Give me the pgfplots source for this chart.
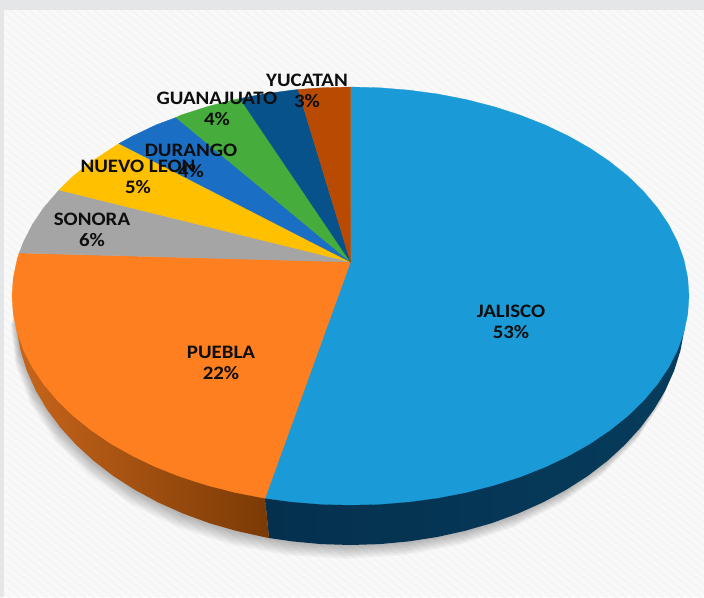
\documentclass[border=0pt]{standalone}
\usepackage{fontspec}
\setmainfont[FakeStretch=1.1]{Carlito}
\usepackage{pgfplots}
\pgfplotsset{compat=1.18}
\usepackage{pgfplotstable}
\usetikzlibrary{patterns.meta}

\definecolor{page}{HTML}{F9F9F9}
\definecolor{stripe}{HTML}{F5F5F5}
\definecolor{band}{HTML}{E4E6E8}
\definecolor{jalisco}{HTML}{1A9BD7}
\definecolor{puebla}{HTML}{FD7F20}
\definecolor{sonora}{HTML}{A5A5A5}
\definecolor{nuevoleon}{HTML}{FFC000}
\definecolor{durango}{HTML}{1A6FC4}
\definecolor{guanajuato}{HTML}{46AC3C}
\definecolor{otro}{HTML}{07528A}
\definecolor{yucatan}{HTML}{B84A02}
\definecolor{etiqueta}{HTML}{0E0E0E}
\definecolor{murojalA}{HTML}{04304E}
\definecolor{murojalB}{HTML}{073C5C}
\definecolor{muropueA}{HTML}{C8651C}
\definecolor{muropueB}{HTML}{7A3A05}

% Outer rim of the pie's base, used for the soft ground shadow
\pgfplotstableread{
x y
685.5 310
680.4 350.8
665.3 390.4
640.6 427.5
607.1 461.1
565.8 490
518 513.5
465.1 530.8
408.7 541.4
350.5 545
292.3 541.4
235.9 530.8
183 513.5
135.2 490
93.9 461.1
60.4 427.5
35.7 390.4
20.6 350.8
15.5 310
350.5 200
}\rim

\pgfplotsset{
  slice/.style={fill=#1,draw=#1,line width=0.3pt,forget plot},
  halo/.style={fill=black,fill opacity=.03,draw=none,forget plot},
}
\tikzset{
  etq/.style={align=center,text=etiqueta,inner sep=0pt,
    font=\fontsize{19}{21}\selectfont\bfseries},
}

\begin{document}
\begin{tikzpicture}
\begin{axis}[
  scale only axis,width=704pt,height=597pt,
  xmin=0,xmax=704,ymin=0,ymax=597,y dir=reverse,
  hide axis,clip=true,
]
% page, with its fine diagonal weave and the grey margins
\addplot[fill=page,draw=none,forget plot] coordinates {(0,0)(704,0)(704,597)(0,597)} -- cycle;
\addplot[pattern={Lines[angle=-40,distance=6pt,line width=2pt]},pattern color=stripe,draw=none,forget plot]
  coordinates {(0,0)(704,0)(704,597)(0,597)} -- cycle;
\addplot[fill=band,draw=none,forget plot] coordinates {(0,0)(704,0)(704,10)(0,10)} -- cycle;
\addplot[fill=band,draw=none,forget plot] coordinates {(0,0)(4,0)(4,597)(0,597)} -- cycle;

% ground shadow, built up from offset copies of the rim
\addplot[halo] table[x expr=\thisrow{x}-5,y expr=\thisrow{y}+14] {\rim} -- cycle;
\addplot[halo] table[x expr=\thisrow{x}-4.5,y expr=\thisrow{y}+12.5] {\rim} -- cycle;
\addplot[halo] table[x expr=\thisrow{x}-4,y expr=\thisrow{y}+11] {\rim} -- cycle;
\addplot[halo] table[x expr=\thisrow{x}-3.5,y expr=\thisrow{y}+9.5] {\rim} -- cycle;
\addplot[halo] table[x expr=\thisrow{x}-3,y expr=\thisrow{y}+8] {\rim} -- cycle;
\addplot[halo] table[x expr=\thisrow{x}-2.5,y expr=\thisrow{y}+6.5] {\rim} -- cycle;
\addplot[halo] table[x expr=\thisrow{x}-2,y expr=\thisrow{y}+5] {\rim} -- cycle;
\addplot[halo] table[x expr=\thisrow{x}-1.5,y expr=\thisrow{y}+3.5] {\rim} -- cycle;
\addplot[halo] table[x expr=\thisrow{x}-1,y expr=\thisrow{y}+2] {\rim} -- cycle;

% side wall under JALISCO
\addplot[left color=murojalA,right color=murojalB,draw=none,forget plot] coordinates {
(685.5,310)(684.2,330.5)(680.4,350.8)(674.1,370.8)(665.3,390.4)(654.1,409.3)(640.6,427.5)
(624.9,444.8)(607.1,461.1)(587.4,476.2)(565.8,490)(542.7,502.5)(518,513.5)(492.1,523)
(465.1,530.8)(437.2,537)(408.7,541.4)(379.7,544.1)(350.5,545)(321.3,544.1)(292.3,541.4)
(269,538)(265,498.2)} -- cycle;

% side wall under PUEBLA
\addplot[left color=muropueA,right color=muropueB,draw=none,forget plot] coordinates {
(269,538)(263.8,537)(235.9,530.8)(208.9,523)(183,513.5)(158.3,502.5)(135.2,490)(113.6,476.2)
(93.9,461.1)(76.1,444.8)(60.4,427.5)(46.9,409.3)(35.7,390.4)(26.9,370.8)(20.6,350.8)
(16.8,330.5)(15.5,310)(265,498.2)} -- cycle;

% top face, slice by slice, clockwise from the top of the rim
% JALISCO 53%
\addplot[slice=jalisco] coordinates {
(350.5,262)(350.5,87)(380,87.8)(409.3,90.2)(438.1,94.1)(466.3,99.6)(493.6,106.6)(519.8,115)
(544.7,124.8)(568.1,135.9)(589.9,148.2)(609.8,161.7)(627.8,176.1)(643.6,191.5)(657.3,207.7)
(668.6,224.5)(677.5,241.9)(683.9,259.7)(687.7,277.8)(689,296)(687.7,314.2)(683.9,332.3)
(677.5,350.1)(668.6,367.5)(657.3,384.3)(643.6,400.5)(627.8,415.9)(609.8,430.3)(589.9,443.8)
(568.1,456.1)(544.7,467.2)(519.8,477)(493.6,485.4)(466.3,492.4)(438.1,497.9)(409.3,501.8)
(380,504.2)(350.5,505)(321,504.2)(291.7,501.8)(265,498.2)} -- cycle;
% PUEBLA 22%
\addplot[slice=puebla] coordinates {
(350.5,262)(265,498.2)(262.9,497.9)(234.7,492.4)(207.4,485.4)(181.2,477)(156.3,467.2)
(132.9,456.1)(111.1,443.8)(91.2,430.3)(73.2,415.9)(57.4,400.5)(43.7,384.3)(32.4,367.5)
(23.5,350.1)(17.1,332.3)(13.3,314.2)(12,296)(13.3,277.8)(17.1,259.7)(19.2,253)} -- cycle;
% SONORA 6%
\addplot[slice=sonora] coordinates {
(350.5,262)(19.2,253)(23.5,241.9)(32.4,224.5)(43.7,207.7)(59,190)} -- cycle;
% NUEVO LEON 5%
\addplot[slice=nuevoleon] coordinates {
(350.5,262)(59,190)(73.2,176.1)(91.2,161.7)(119,143.5)} -- cycle;
% DURANGO 4%
\addplot[slice=durango] coordinates {
(350.5,262)(119,143.5)(132.9,135.9)(156.3,124.8)(176,117.5)} -- cycle;
% GUANAJUATO 4%
\addplot[slice=guanajuato] coordinates {
(350.5,262)(176,117.5)(181.2,115)(207.4,106.6)(234.7,99.6)(240,98.5)} -- cycle;
% the unlabelled slice
\addplot[slice=otro] coordinates {
(350.5,262)(240,98.5)(262.9,94.1)(291.7,90.2)(298,89.5)} -- cycle;
% YUCATAN 3%
\addplot[slice=yucatan] coordinates {
(350.5,262)(298,89.5)(321,87.8)(350.5,87)} -- cycle;

\node[etq] at (axis cs:511,322) {JALISCO\\53\%};
\node[etq] at (axis cs:221,363) {PUEBLA\\22\%};
\node[etq] at (axis cs:92,230) {SONORA\\6\%};
\node[etq] at (axis cs:138,177) {NUEVO LEON\\5\%};
\node[etq] at (axis cs:191,161) {DURANGO\\4\%};
\node[etq] at (axis cs:217,109) {GUANAJUATO\\4\%};
\node[etq] at (axis cs:307,91) {YUCATAN\\3\%};
\end{axis}
\end{tikzpicture}
\end{document}
